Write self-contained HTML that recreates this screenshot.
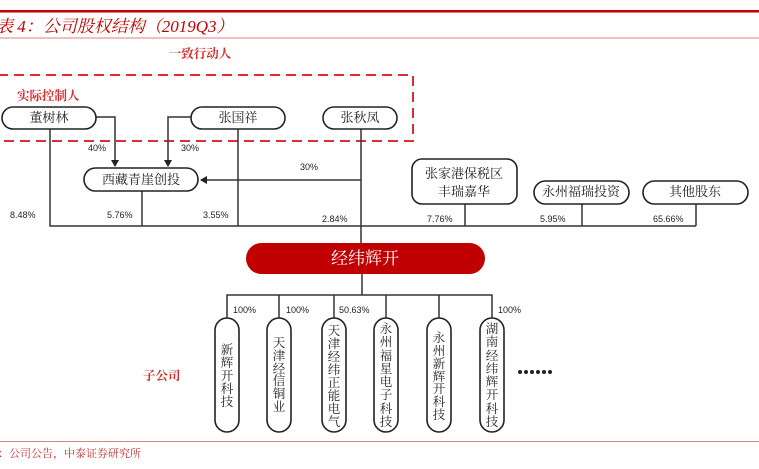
<!DOCTYPE html>
<html><head><meta charset="utf-8"><style>
html,body{margin:0;padding:0;background:#fff;}
svg{display:block;font-family:"Liberation Serif","Noto Serif CJK SC",serif;}
.s{font-family:"Liberation Sans","Noto Sans CJK SC",sans-serif;}
</style></head><body>
<svg width="759" height="469" viewBox="0 0 759 469" xmlns="http://www.w3.org/2000/svg">
<defs><marker id="a" markerWidth="8" markerHeight="8" refX="6" refY="4" orient="auto" markerUnits="userSpaceOnUse"><path d="M0,0 L7,4 L0,8 z" fill="#222"/></marker></defs>
<rect x="0" y="10" width="759" height="2.5" fill="#c00000"/>
<text x="-4" y="32" font-size="17" font-style="italic" fill="#c00000">表 4：公司股权结构（2019Q3）</text>
<rect x="0" y="37.5" width="759" height="1" fill="#e08080"/>
<text x="200" y="58" font-size="12.5" fill="#d03030" text-anchor="middle" font-weight="bold">一致行动人</text>
<path d="M-2,75 H413 V141 H-2" fill="none" stroke="#d83030" stroke-width="2" stroke-dasharray="10,6"/>
<text x="17" y="100" font-size="12.5" fill="#d03030" font-weight="bold">实际控制人</text>
<g fill="none" stroke="#333" stroke-width="1.5">
<path d="M96,117 H115 V166" marker-end="url(#a)"/>
<path d="M191,117 H168 V166" marker-end="url(#a)"/>
<path d="M361,128 V243"/>
<path d="M361,180 H201" marker-end="url(#a)"/>
<path d="M50,128 V226 H696"/>
<path d="M142,191 V226"/><path d="M238,128 V226"/>
<path d="M465,204 V226"/><path d="M582,204 V226"/><path d="M696,204 V226"/>
<path d="M362,274 V295"/><path d="M227,318 V295 H492 V318"/>
<path d="M279,295 V318"/><path d="M334,295 V318"/><path d="M386,295 V318"/><path d="M439,295 V318"/>
</g>
<g fill="#fff" stroke="#222" stroke-width="1.6">
<rect x="2" y="107" width="94" height="22" rx="11"/>
<rect x="191" y="107" width="94" height="22" rx="11"/>
<rect x="323" y="107" width="74" height="22" rx="11"/>
<rect x="84" y="168" width="114" height="23" rx="11.5"/>
<rect x="412" y="159" width="105" height="45" rx="10"/>
<rect x="534" y="181" width="95" height="23" rx="11.5"/>
<rect x="643" y="181" width="105" height="23" rx="11.5"/>
<rect x="215" y="318" width="24" height="114" rx="12"/>
<rect x="267" y="318" width="24" height="114" rx="12"/>
<rect x="322" y="318" width="24" height="114" rx="12"/>
<rect x="374" y="318" width="24" height="114" rx="12"/>
<rect x="427" y="318" width="24" height="114" rx="12"/>
<rect x="480" y="318" width="24" height="114" rx="12"/>
</g>
<rect x="246" y="243" width="239" height="31" rx="15.5" fill="#c00000"/>
<g font-size="13" fill="#222" text-anchor="middle">
<text x="49" y="122">董树林</text>
<text x="238" y="122">张国祥</text>
<text x="360" y="122">张秋凤</text>
<text x="141" y="184">西藏青崖创投</text>
<text x="464" y="178">张家港保税区</text>
<text x="464" y="196">丰瑞嘉华</text>
<text x="581" y="196">永州福瑞投资</text>
<text x="695" y="196">其他股东</text>
</g>
<text x="365" y="264" font-size="17" fill="#fff" text-anchor="middle">经纬辉开</text>
<g class="s" font-size="9" fill="#222">
<text x="88" y="151">40%</text><text x="181" y="151">30%</text><text x="300" y="170">30%</text>
<text x="10" y="218">8.48%</text><text x="107" y="218">5.76%</text><text x="203" y="218">3.55%</text>
<text x="322" y="222">2.84%</text><text x="427" y="222">7.76%</text><text x="540" y="222">5.95%</text><text x="653" y="222">65.66%</text>
<text x="233" y="313">100%</text><text x="286" y="313">100%</text><text x="339" y="313">50.63%</text><text x="498" y="313">100%</text>
</g>
<g font-size="12.5" fill="#222" text-anchor="middle" dominant-baseline="central">
<text x="227" y="350">新</text><text x="227" y="363">辉</text><text x="227" y="376">开</text><text x="227" y="389">科</text><text x="227" y="402">技</text>
<text x="279" y="343">天</text><text x="279" y="356">津</text><text x="279" y="369">经</text><text x="279" y="381">信</text><text x="279" y="394">铜</text><text x="279" y="407">业</text>
<text x="334" y="331">天</text><text x="334" y="344">津</text><text x="334" y="357">经</text><text x="334" y="370">纬</text><text x="334" y="383">正</text><text x="334" y="396">能</text><text x="334" y="409">电</text><text x="334" y="422">气</text>
<text x="386" y="329">永</text><text x="386" y="342">州</text><text x="386" y="356">福</text><text x="386" y="369">星</text><text x="386" y="382">电</text><text x="386" y="395">子</text><text x="386" y="409">科</text><text x="386" y="422">技</text>
<text x="439" y="338">永</text><text x="439" y="351">州</text><text x="439" y="364">新</text><text x="439" y="377">辉</text><text x="439" y="389">开</text><text x="439" y="402">科</text><text x="439" y="415">技</text>
<text x="492" y="329">湖</text><text x="492" y="342">南</text><text x="492" y="356">经</text><text x="492" y="369">纬</text><text x="492" y="382">辉</text><text x="492" y="395">开</text><text x="492" y="409">科</text><text x="492" y="422">技</text>
</g>
<text x="143" y="380" font-size="12.5" fill="#d03030" font-weight="bold">子公司</text>
<g fill="#222"><circle cx="520" cy="372" r="2"/><circle cx="526" cy="372" r="2"/><circle cx="532" cy="372" r="2"/><circle cx="538" cy="372" r="2"/><circle cx="544" cy="372" r="2"/><circle cx="550" cy="372" r="2"/></g>
<rect x="0" y="441" width="759" height="1" fill="#e08080"/>
<text x="-2" y="457" font-size="11" fill="#c03030">：公司公告，中泰证券研究所</text>
</svg>
</body></html>
